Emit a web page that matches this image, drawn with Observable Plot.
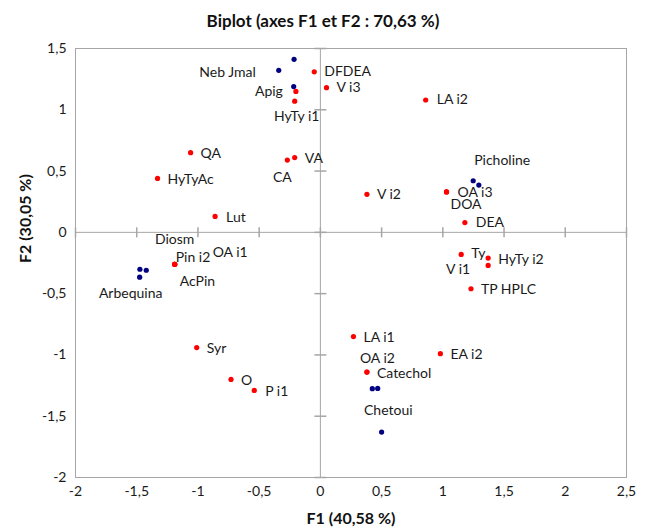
<!DOCTYPE html>
<html>
<head>
<meta charset="utf-8">
<script src="https://cdn.jsdelivr.net/npm/d3@7"></script>
<script src="https://cdn.jsdelivr.net/npm/@observablehq/plot@0.6"></script>
<style>
  body { margin: 0; background: #fff; }
  #wrap { width: 646px; }
  #title { height: 35px; padding-top: 3px; line-height: 36px; text-align: center; font-family: Lato, "Open Sans", sans-serif; font-weight: bold; font-size: 17px; color: #111; }
</style>
</head>
<body>
<div id="wrap">
  <div id="title">Biplot (axes F1 et F2 : 70,63 %)</div>
  <div id="chart"></div>
</div>
<script>
// ---- Data: variables (red) ----
const varNames = ["DFDEA","V i3","LA i2","V i2","OA i3","DOA","DEA","Apig","HyTy i1","QA","HyTyAc","VA","CA","Lut",
                  "Pin i2","Diosm","OA i1","AcPin","Syr","O","P i1","Ty","V i1","HyTy i2","TP HPLC","LA i1","EA i2","Catechol","OA i2"];
const varF1 = [-0.05, 0.05, 0.86, 0.38, 1.03, 1.03, 1.18, -0.20, -0.21, -1.06, -1.33, -0.21, -0.27, -0.86,
               -1.19, -1.19, -1.19, -1.19, -1.01, -0.73, -0.54, 1.15, 1.37, 1.37, 1.23, 0.27, 0.98, 0.38, 0.38];
const varF2 = [1.31, 1.18, 1.08, 0.31, 0.33, 0.33, 0.08, 1.15, 1.07, 0.65, 0.44, 0.61, 0.59, 0.13,
               -0.26, -0.26, -0.26, -0.26, -0.94, -1.20, -1.29, -0.18, -0.27, -0.21, -0.46, -0.85, -0.99, -1.14, -1.14];

// ---- Data: observations (dark blue) ----
const obsGroup = ["Neb Jmal","Neb Jmal","Neb Jmal","Picholine","Picholine","Arbequina","Arbequina","Arbequina","Chetoui","Chetoui","Chetoui"];
const obsF1 = [-0.215, -0.34, -0.218, 1.248, 1.294, -1.474, -1.422, -1.476, 0.424, 0.468, 0.50];
const obsF2 = [1.412, 1.322, 1.189, 0.421, 0.386, -0.301, -0.309, -0.366, -1.275, -1.273, -1.629];
const obsLabelPoint = [false, true, false, true, false, false, false, true, true, false, false];

// ---- Axis ticks ----
const xTicks = [-2, -1.5, -1, -0.5, 0, 0.5, 1, 1.5, 2, 2.5];
const yTicks = [-2, -1.5, -1, -0.5, 0, 0.5, 1, 1.5];
const xTitle = "F1 (40,58 %)";
const yTitle = "F2 (30,05 %)";

// ---- Label placement (pixel offsets relative to each point) ----
const labelLayout = {
  "DFDEA": ["start", 10, 0], "V i3": ["start", 10, 0], "LA i2": ["start", 11, 0], "V i2": ["start", 10, 0],
  "OA i3": ["start", 11, 1], "DOA": ["start", 4, 13], "DEA": ["start", 11, 0], "Apig": ["end", -13, 0],
  "HyTy i1": ["middle", 2, 15], "QA": ["start", 10, 1], "HyTyAc": ["start", 10, 1], "VA": ["start", 10, 1],
  "CA": ["middle", -5, 17], "Lut": ["start", 11, 1], "Pin i2": ["start", 1, -7], "Diosm": ["middle", 0, -25],
  "OA i1": ["start", 38, -12], "AcPin": ["start", 5, 17], "Syr": ["start", 10, 1], "O": ["start", 10, 1],
  "P i1": ["start", 11, 1], "Ty": ["start", 10, -1], "V i1": ["end", -18, 4], "HyTy i2": ["start", 10, 1],
  "TP HPLC": ["start", 10, 1], "LA i1": ["start", 10, 1], "EA i2": ["start", 10, 1], "Catechol": ["start", 10, 1],
  "OA i2": ["start", -7, -14],
  "Neb Jmal": ["end", -23, 2], "Picholine": ["start", 1, -20], "Arbequina": ["middle", -9, 16], "Chetoui": ["middle", 16, 22]
};

const vars = varNames.map((name, i) => ({name, x: varF1[i], y: varF2[i]}));
const obs = obsGroup.map((name, i) => ({name, x: obsF1[i], y: obsF2[i], lab: obsLabelPoint[i]}));
const fmt = d => String(d).replace(".", ",");

const gray = "#a6a6a6";
const hTick = {draw(c) { c.moveTo(-6, 0); c.lineTo(6, 0); }};
const vTick = {draw(c) { c.moveTo(0, -5); c.lineTo(0, 5); }};

const labelMarks = [];
for (const d of vars) {
  const [a, dx, dy] = labelLayout[d.name];
  labelMarks.push(Plot.text([d], {x: "x", y: "y", text: "name", textAnchor: a, dx, dy, fontSize: 14, fill: "#1a1a1a"}));
}
for (const d of obs.filter(o => o.lab)) {
  const [a, dx, dy] = labelLayout[d.name];
  labelMarks.push(Plot.text([d], {x: "x", y: "y", text: "name", textAnchor: a, dx, dy, fontSize: 14, fill: "#1a1a1a"}));
}

const chart = Plot.plot({
  width: 646,
  height: 492,
  marginLeft: 75,
  marginRight: 20,
  marginTop: 10,
  marginBottom: 53,
  style: {fontFamily: "Lato, 'Open Sans', sans-serif", fontSize: "14px", color: "#1a1a1a", background: "#fff"},
  x: {domain: [-2, 2.5], label: null},
  y: {domain: [-2, 1.5], label: null},
  marks: [
    Plot.frame({stroke: gray}),
    Plot.ruleX([0], {stroke: gray}),
    Plot.ruleY([0], {stroke: gray}),
    Plot.dot(yTicks, {x: () => 0, y: d => d, symbol: hTick, stroke: gray, r: 3}),
    Plot.dot(xTicks, {x: d => d, y: () => 0, symbol: vTick, stroke: gray, r: 3}),
    Plot.axisX(xTicks, {tickSize: 0, tickPadding: 9, tickFormat: fmt, fontSize: 14, label: null}),
    Plot.axisY(yTicks, {tickSize: 0, tickPadding: 9, tickFormat: fmt, fontSize: 14, label: null}),
    Plot.text([xTitle], {frameAnchor: "bottom", dy: 46, text: d => d, fontWeight: "bold", fontSize: 16, fill: "#111"}),
    Plot.text([yTitle], {frameAnchor: "left", dx: -50, rotate: -90, text: d => d, fontWeight: "bold", fontSize: 16, fill: "#111"}),
    Plot.dot(obs, {x: "x", y: "y", r: 2.6, fill: "#000080", stroke: "none"}),
    Plot.dot(vars, {x: "x", y: "y", r: 2.6, fill: "#ff0000", stroke: "none"}),
    ...labelMarks
  ]
});
document.getElementById("chart").appendChild(chart);
</script>
</body>
</html>
